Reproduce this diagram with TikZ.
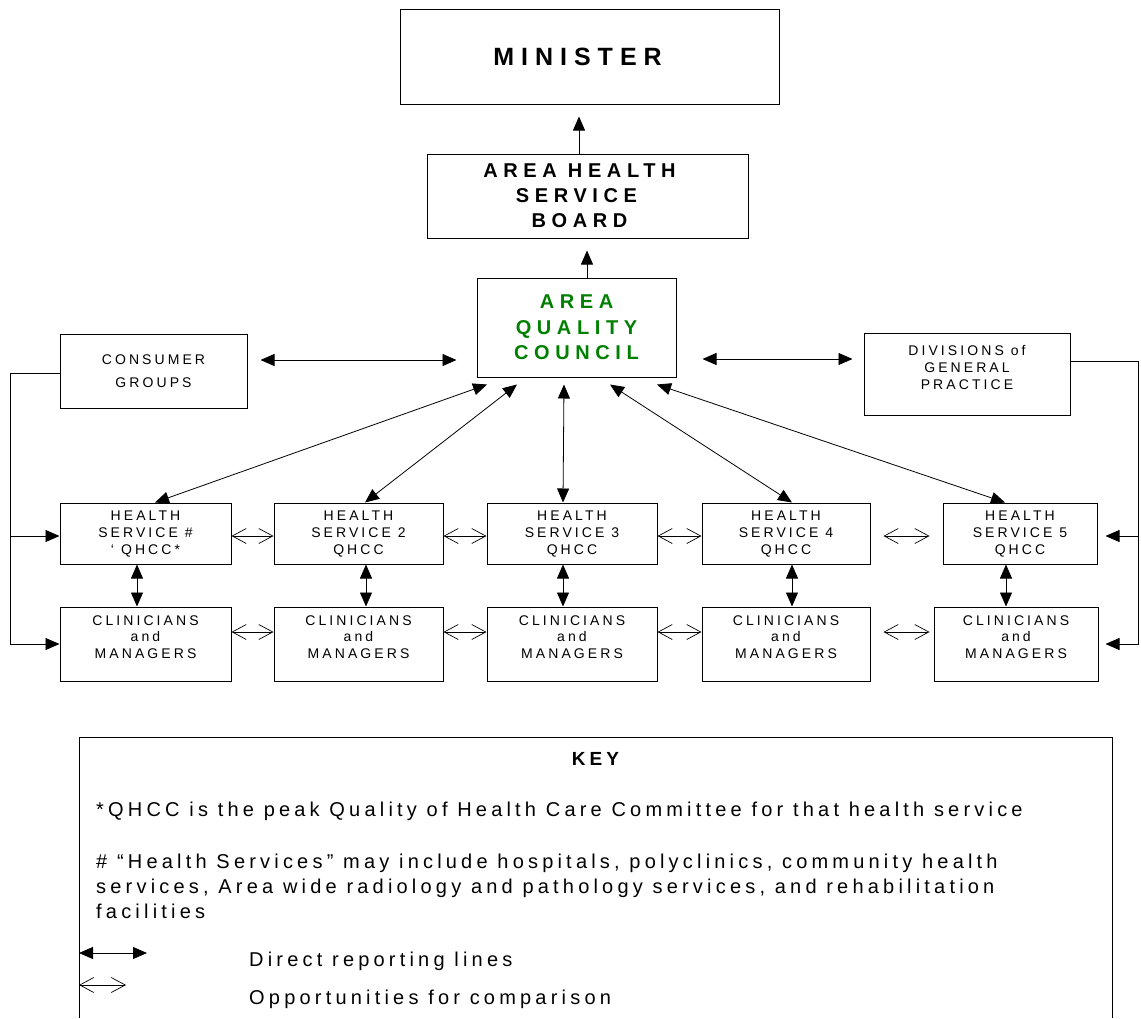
\documentclass[tikz,border=0pt]{standalone}
\usepackage{fontspec}
\setmainfont{Liberation Sans}
\newfontfamily\trackfont[LetterSpace=22]{Liberation Sans}
\newfontfamily\widefont[LetterSpace=28]{Liberation Sans}
\newfontfamily\keyfont[LetterSpace=21]{Liberation Sans}
\usetikzlibrary{arrows.meta}
\definecolor{councilgreen}{RGB}{0,128,0}
\tikzset{
  >=stealth,
  box/.style={draw, line width=1pt, inner sep=0pt, align=center,
    font=\trackfont\fontsize{14pt}{17pt}\selectfont},
  hsbox/.style={box, minimum height=61pt},
  cmbox/.style={box, minimum height=74pt, text depth=14pt,
    font=\trackfont\fontsize{14pt}{16.5pt}\selectfont},
  rep/.style={line width=0.8pt, {Triangle[length=14pt,width=12pt]}-{Triangle[length=14pt,width=12pt]}},
  fwd/.style={line width=0.8pt, -{Triangle[length=14pt,width=12pt]}},
  cmp/.style={line width=0.7pt, {Straight Barb[length=14pt,width=15pt]}-{Straight Barb[length=14pt,width=15pt]}},
  bus/.style={line width=1.2pt},
  keytext/.style={inner sep=0pt, anchor=base west, align=left,
    font=\keyfont\fontsize{20pt}{25pt}\selectfont}
}
\begin{document}
\begin{tikzpicture}[x=1pt, y=-1pt]
\useasboundingbox (0,0) rectangle (1141,1018);

% top of the line
\node[box, minimum width=379pt, minimum height=95pt,
  font=\widefont\bfseries\fontsize{25pt}{30pt}\selectfont] (minister) at (589.5,56.5) {MINISTER\kern24pt};
\node[box, minimum width=321pt, minimum height=84pt,
  font=\widefont\bfseries\fontsize{20pt}{25pt}\selectfont] (board) at (587.5,196)
  {AREA HEALTH\kern16pt\\SERVICE\kern22pt\\BOARD\kern16pt};
\node[box, minimum width=199pt, minimum height=99pt, text=councilgreen,
  font=\widefont\bfseries\fontsize{20pt}{25.5pt}\selectfont] (aqc) at (576.5,327.5) {AREA\\QUALITY\\COUNCIL};
\node[box, minimum width=187pt, minimum height=74pt,
  font=\trackfont\fontsize{14pt}{23pt}\selectfont] (consumer) at (153.5,371) {CONSUMER\\GROUPS};
\node[box, minimum width=206pt, minimum height=82pt, text depth=14pt] (divisions) at (967,374) {DIVISIONS of\\GENERAL\\PRACTICE};

% health services and clinicians
\node[hsbox, minimum width=171pt] (hs1) at (145.5,533.5) {HEALTH\\SERVICE \#\\‘ QHCC*};
\node[hsbox, minimum width=169pt] (hs2) at (358.5,533.5) {HEALTH\\SERVICE 2\\QHCC};
\node[hsbox, minimum width=170pt] (hs3) at (572,533.5) {HEALTH\\SERVICE 3\\QHCC};
\node[hsbox, minimum width=168pt] (hs4) at (786,533.5) {HEALTH\\SERVICE 4\\QHCC};
\node[hsbox, minimum width=154pt] (hs5) at (1020,533.5) {HEALTH\\SERVICE 5\\QHCC};
\node[cmbox, minimum width=171pt] (cm1) at (145.5,644) {CLINICIANS\\and\\MANAGERS};
\node[cmbox, minimum width=169pt] (cm2) at (358.5,644) {CLINICIANS\\and\\MANAGERS};
\node[cmbox, minimum width=170pt] (cm3) at (572,644) {CLINICIANS\\and\\MANAGERS};
\node[cmbox, minimum width=168pt] (cm4) at (786,644) {CLINICIANS\\and\\MANAGERS};
\node[cmbox, minimum width=164pt] (cm5) at (1016,644) {CLINICIANS\\and\\MANAGERS};

% reporting lines
\draw[fwd, shorten >=12pt] ([xshift=-8.5pt]board.north) -- ([xshift=-10.5pt]minister.south);
\draw[fwd, shorten >=12pt] ([xshift=10.5pt]aqc.north) -- ([xshift=-0.5pt]board.south);
\draw[rep, shorten <=13pt, shorten >=20pt] ([yshift=11pt]consumer.east) -- ([yshift=-32.5pt]aqc.west);
\draw[rep, shorten <=26pt, shorten >=11pt] ([yshift=-31.5pt]aqc.east) -- ([yshift=15pt]divisions.west);
\foreach \s/\h/\t in {-89.5/hs1/9.5, -59.5/hs2/6.5, -12.5/hs3/-9, 33.5/hs4/6, 80.5/hs5/-15}
  \draw[rep] ([xshift=\s pt, yshift=-7pt]aqc.south) -- ([xshift=\t pt]\h.north);
\foreach \i/\a/\b in {1/-8.5/-8.5, 2/7.5/7.5, 3/-9/-9, 4/6/6, 5/-14/-10}
  \draw[rep] ([xshift=\a pt]hs\i.south) -- ([xshift=\b pt]cm\i.north);

% comparison
\foreach \i/\j in {1/2, 2/3, 3/4} {
  \draw[cmp] ([yshift=-2.5pt]hs\i.east) -- ([yshift=-2.5pt]hs\j.west);
  \draw[cmp] ([yshift=12pt]cm\i.east) -- ([yshift=12pt]cm\j.west);
}
\draw[cmp, shorten <=13pt, shorten >=13pt] ([yshift=-2.5pt]hs4.east) -- ([yshift=-2.5pt]hs5.west);
\draw[cmp, shorten <=13pt, shorten >=4pt] ([yshift=12pt]cm4.east) -- ([yshift=12pt]cm5.west);

% side feeds
\draw[bus, fwd] ([yshift=-2pt]consumer.west) -| ([xshift=-49pt]cm1.west) -- (cm1.west);
\draw[bus, fwd] ([xshift=-49pt, yshift=-2.5pt]hs1.west) -- ([yshift=-2.5pt]hs1.west);
\draw[bus, fwd, shorten >=7pt] ([yshift=13pt]divisions.east) -| ([xshift=40pt]cm5.east) -- (cm5.east);
\draw[bus, fwd, shorten >=8pt] ([xshift=41pt, yshift=-2.5pt]hs5.east) -- ([yshift=-2.5pt]hs5.east);

% key
\draw[line width=1pt] (79,1018) |- (1112,737) -- (1112,1018);
\node[keytext, anchor=base, font=\keyfont\bfseries\fontsize{19pt}{25pt}\selectfont] (keyhead) at (595.5,765) {KEY};
\node[keytext] (keyqhcc) at (96,816) {*QHCC is the peak Quality of Health Care Committee for that health service};
\node[keytext] (keyhs) at (96,918) {\# “Health Services” may include hospitals, polyclinics, community health\\services, Area wide radiology and pathology services, and rehabilitation\\facilities};
\draw[rep] (79,953) -- (147,953);
\node[keytext] (keyrep) at (249,966) {Direct reporting lines};
\draw[cmp] (79,985) -- (126,985);
\node[keytext] (keycmp) at (249,1004) {Opportunities for comparison};
\end{tikzpicture}
\end{document}
